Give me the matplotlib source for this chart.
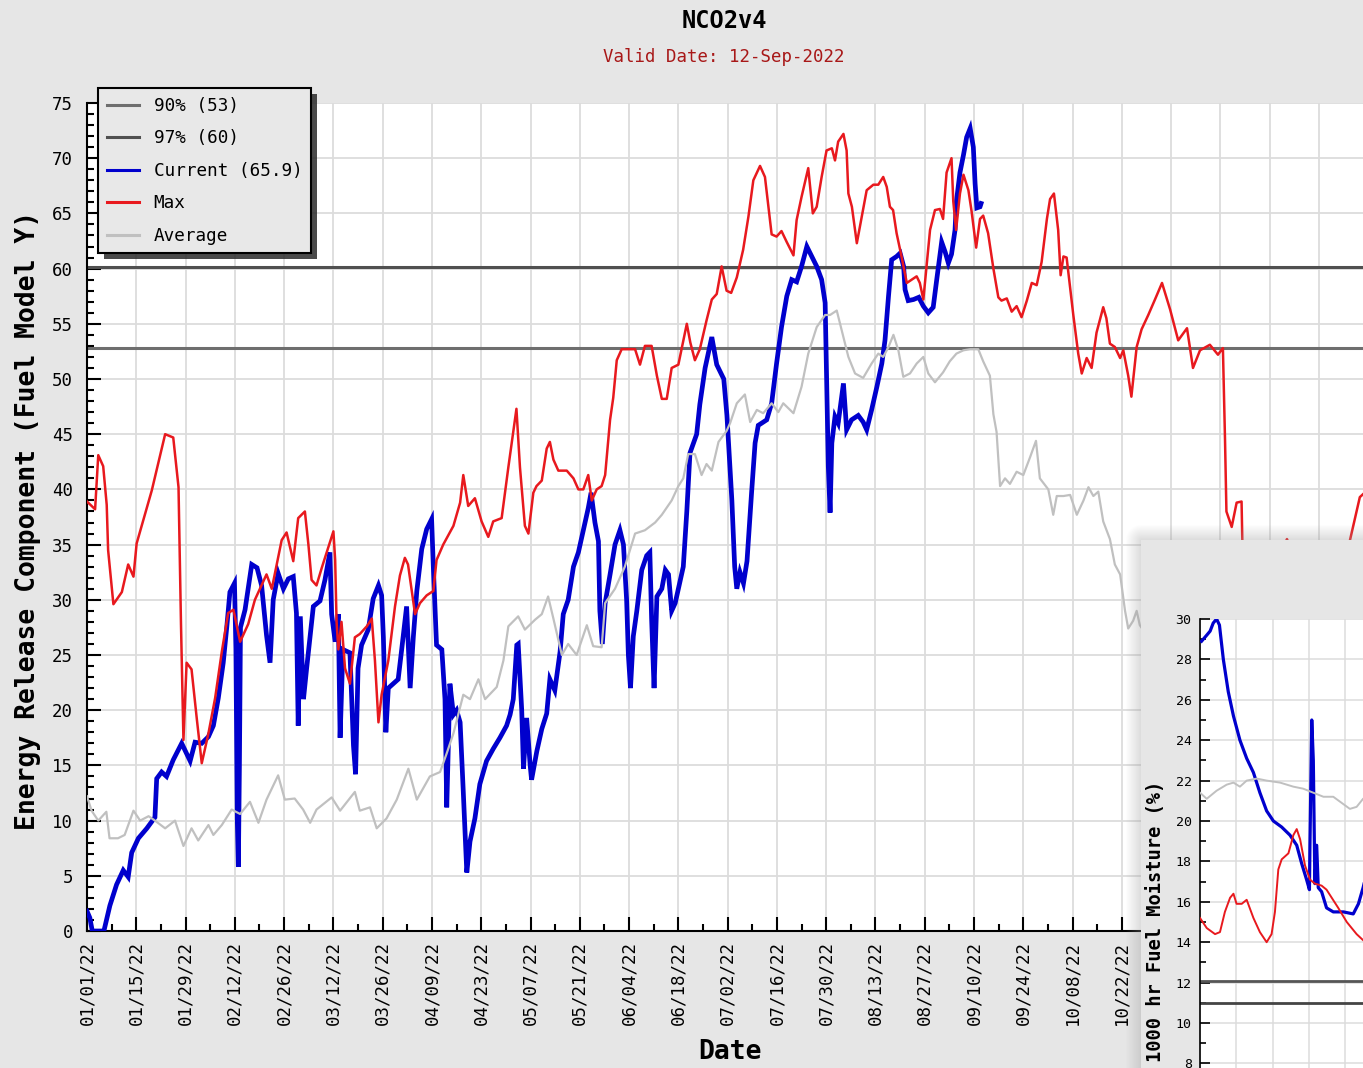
import numpy as np
import matplotlib
matplotlib.use("Agg")
import matplotlib.pyplot as plt
import matplotlib.dates as mdates
from matplotlib.patches import Rectangle
from matplotlib.ticker import FixedLocator, MultipleLocator

plt.rcParams["font.family"] = ["DejaVu Sans Mono", "DejaVu Sans"]

# %% data (day offsets from 2022-01-01)
title = "NCO2v4"
valid_date = "Valid Date: 12-Sep-2022"
pct90, pct97 = 52.8, 60.1
current_label = "Current (65.9)"

max_days = [0, 2.3, 3.2, 4.6, 5.6, 6.0, 7.5, 9.9, 11.7, 13.2, 14.1, 18.4, 22.2, 24.5, 26.0, 26.7, 27.4,
            28.3, 29.7, 31.2, 32.6, 34.5, 36.4, 38.3, 40.1, 41.6, 43.5, 45.8, 47.7, 51.0, 52.5, 55.3,
            56.7, 58.6, 60.0, 61.9, 62.9, 63.8, 65.2, 66.7, 68.1, 70.0, 70.5, 70.9, 71.4, 72.3, 73.3,
            74.7, 76.1, 77.5, 79.5, 80.9, 81.8, 82.8, 83.7, 85.6, 87.5, 88.9, 90.3, 91.2, 93.2, 94.6,
            96.5, 98.4, 99.3, 101.2, 104.1, 106.0, 106.9, 108.3, 110.2, 112.1, 114.0, 115.4, 117.8,
            119.7, 122.0, 123.0, 124.4, 125.4, 126.8, 127.7, 129.2, 130.6, 131.5, 132.5, 133.9, 136.3,
            138.2, 139.6, 141.0, 142.4, 143.4, 144.8, 146.2, 147.2, 148.6, 149.5, 150.5, 151.9, 153.8,
            155.7, 157.1, 158.5, 160.4, 161.9, 163.3, 164.7, 166.1, 168.0, 170.4, 171.4, 172.7, 174.1,
            176.0, 177.5, 178.9, 180.3, 181.7, 183.0, 184.6, 186.4, 187.9, 189.3, 191.2, 192.6, 193.6,
            194.5, 195.9, 197.3, 198.8, 200.7, 201.6, 203.0, 204.9, 206.2, 207.3, 208.7, 210.1, 211.6,
            212.5, 213.4, 214.9, 215.8, 216.3, 217.3, 218.7, 220.1, 221.5, 223.4, 224.8, 226.2, 227.2,
            228.1, 229.0, 230.0, 231.4, 232.9, 234.3, 235.7, 236.6, 237.6, 238.5, 239.5, 240.9, 242.3,
            243.2, 244.2, 245.6, 246.1, 246.9, 248.0, 249.0, 250.4, 251.3, 252.6, 253.7, 254.6, 256.0,
            257.5, 258.9, 259.8, 261.3, 262.7, 264.1, 265.5, 267.0, 268.4, 269.8, 271.2, 272.7, 273.6,
            274.7, 275.9, 276.6, 277.4, 278.3, 280.2, 281.6, 282.6, 284.0, 285.4, 286.8, 288.7, 289.6,
            290.6, 292.0, 293.5, 294.4, 295.8, 296.7, 298.2, 299.6, 301.5, 303.4, 305.4, 307.7, 310.0,
            312.5, 314.2, 316.2, 319.0, 321.3, 322.7, 323.3, 323.7, 325.2, 326.6, 328.0, 328.3, 331.0,
            336.0, 340.9, 344.0, 350.0, 355.0, 358.8, 361.6, 364.0]
max_vals = [38.9, 38.2, 43.1, 42.1, 38.6, 34.5, 29.6, 30.7, 33.2, 32.1, 35.1, 39.9, 45.0, 44.7, 40.2, 27.8,
            17.3, 24.3, 23.7, 19.2, 15.2, 17.9, 21.1, 25.3, 28.8, 29.1, 26.2, 27.8, 30.0, 32.3, 31.0,
            35.4, 36.1, 33.5, 37.4, 38.0, 35.0, 31.8, 31.3, 32.9, 34.3, 36.2, 33.6, 28.0, 25.5, 28.0,
            23.8, 22.4, 26.6, 26.9, 27.6, 28.3, 24.5, 18.9, 21.4, 24.5, 29.4, 32.2, 33.8, 33.2, 28.7,
            29.7, 30.4, 30.8, 33.6, 35.0, 36.7, 38.8, 41.3, 38.5, 39.2, 37.1, 35.7, 37.1, 37.4, 42.0,
            47.3, 42.0, 36.7, 36.0, 39.7, 40.3, 40.8, 43.7, 44.3, 42.7, 41.7, 41.7, 41.0, 40.0, 40.0,
            41.3, 39.0, 40.0, 40.3, 41.3, 46.3, 48.3, 51.7, 52.7, 52.7, 52.7, 51.3, 53.0, 53.0, 50.3,
            48.2, 48.2, 51.0, 51.3, 55.0, 53.3, 51.7, 52.7, 55.3, 57.2, 57.7, 60.2, 58.0, 57.8, 59.2,
            61.7, 64.7, 68.0, 69.3, 68.3, 65.6, 63.1, 62.9, 63.4, 62.4, 61.2, 64.4, 66.5, 69.1, 65.0,
            65.6, 68.3, 70.7, 70.9, 69.8, 71.5, 72.2, 70.7, 66.8, 65.6, 62.3, 64.7, 67.1, 67.6, 67.6,
            68.3, 67.4, 65.6, 65.3, 63.2, 61.1, 58.7, 59.0, 59.3, 58.7, 57.2, 60.2, 63.5, 65.3, 65.4,
            64.5, 68.7, 70.0, 66.1, 63.5, 66.8, 68.5, 67.1, 65.2, 61.9, 64.5, 64.8, 63.2, 60.0, 57.4,
            57.1, 57.3, 56.1, 56.6, 55.6, 57.1, 58.7, 58.5, 60.6, 64.5, 66.3, 66.8, 63.5, 59.4, 61.1,
            61.0, 55.8, 52.3, 50.5, 51.9, 51.0, 54.2, 56.5, 55.5, 53.2, 52.9, 51.9, 52.6, 50.3, 48.4,
            52.9, 54.5, 55.8, 57.2, 58.7, 56.3, 53.5, 54.6, 51.0, 52.6, 53.1, 52.2, 52.8, 44.5, 38.0,
            36.6, 38.8, 38.9, 34.0, 31.0, 32.0, 35.5, 33.0, 31.0, 32.0, 35.4, 39.3, 40.0]

cur_days = [0, 0.8, 1.5, 4.8, 6.5, 8.4, 10.3, 11.7, 12.7, 14.6, 17.0, 19.3, 19.8, 21.2, 22.6, 24.5, 26.9,
            29.3, 30.7, 32.6, 34.5, 35.9, 37.3, 38.7, 39.7, 40.6, 41.9, 42.3, 42.7, 43.0, 43.3, 43.6,
            44.9, 46.8, 48.3, 49.6, 51.0, 52.0, 52.9, 54.3, 55.8, 57.2, 58.6, 59.5, 60.0, 60.6, 61.5,
            62.4, 64.3, 66.2, 67.6, 69.0, 69.5, 70.5, 71.4, 71.9, 72.7, 74.7, 75.7, 76.3, 77.0, 78.0,
            79.9, 81.3, 82.8, 83.7, 84.2, 84.9, 85.6, 87.0, 88.4, 89.4, 90.8, 91.8, 92.7, 93.7, 95.1,
            96.5, 97.9, 98.4, 99.3, 100.8, 101.7, 102.2, 103.1, 104.1, 105.0, 106.0, 106.9, 107.9,
            108.8, 110.2, 111.6, 113.5, 115.4, 117.3, 119.2, 120.2, 121.1, 122.1, 122.5, 123.5, 124.0,
            124.9, 125.9, 126.3, 127.8, 129.2, 130.6, 131.5, 132.9, 134.4, 135.3, 136.7, 138.2, 139.6,
            141.0, 142.4, 143.2, 144.3, 145.3, 145.7, 146.4, 147.2, 148.6, 150.0, 151.4, 152.4, 153.3,
            153.8, 154.4, 155.2, 156.2, 157.6, 159.0, 159.9, 160.4, 161.1, 161.9, 163.3, 164.3, 165.2,
            166.1, 167.1, 168.0, 169.4, 170.4, 171.3, 173.2, 174.1, 175.6, 177.5, 178.9, 180.9, 181.8,
            183.2, 184.0, 184.6, 185.5, 186.5, 187.5, 188.8, 189.8, 190.7, 193.1, 194.5, 195.9, 197.3,
            198.8, 200.2, 201.6, 203.0, 204.5, 205.9, 207.3, 208.7, 209.7, 210.1, 210.6, 211.1, 211.6,
            212.5, 213.4, 214.9, 215.8, 217.2, 219.1, 220.5, 221.5, 222.9, 224.4, 225.8, 226.7, 227.7,
            228.6, 230.0, 231.0, 232.0, 232.4, 233.3, 234.8, 236.3, 237.6, 239.0, 240.4, 241.4, 242.8,
            243.8, 244.7, 245.6, 246.6, 247.0, 248.0, 249.0, 249.9, 250.9, 251.8, 252.3, 252.8, 253.7,
            254.0]
cur_vals = [1.8, 1.2, 0.0, 0.0, 2.3, 4.2, 5.5, 4.9, 7.1, 8.4, 9.3, 10.3, 13.8, 14.4, 14.0, 15.5, 17.0,
            15.4, 17.1, 17.0, 17.6, 18.6, 21.1, 24.3, 27.5, 30.7, 31.5, 25.6, 10.0, 5.8, 15.0, 27.5,
            29.1, 33.2, 32.9, 31.3, 26.8, 24.3, 30.0, 32.4, 31.0, 31.9, 32.1, 28.8, 18.6, 28.5, 21.0,
            23.8, 29.4, 29.9, 31.8, 34.3, 28.7, 26.2, 28.7, 17.5, 25.5, 25.2, 16.8, 14.2, 23.8, 25.9,
            27.3, 30.1, 31.3, 30.4, 26.6, 18.0, 22.0, 22.4, 22.8, 25.5, 29.4, 22.0, 26.6, 30.8, 34.6,
            36.4, 37.3, 32.9, 25.9, 25.5, 21.0, 11.2, 22.4, 19.6, 20.0, 18.9, 12.6, 5.3,
            8.1, 10.2, 13.3, 15.4, 16.5, 17.5, 18.6, 19.6, 21.0, 25.9, 26.0, 20.0, 14.7,
            19.3, 15.0, 13.7, 16.3, 18.3, 19.7, 22.8, 21.8, 25.3, 28.7, 30.0, 33.0, 34.3,
            36.3, 38.3, 39.7, 37.0, 35.3, 29.0, 26.0, 29.7, 32.3, 35.0, 36.3, 35.0, 30.0,
            25.0, 22.0, 26.7, 29.0, 32.7, 34.0, 34.3, 28.3, 22.0, 30.3, 31.0, 32.7, 32.3,
            29.0, 29.7, 31.0, 33.0, 38.0, 43.3, 45.0, 47.7, 51.0, 53.8, 51.3, 50.0, 46.7,
            39.0, 33.0, 31.0, 32.5, 31.5, 33.5, 39.7, 44.2, 45.8, 46.3, 47.8, 51.4, 54.7,
            57.5, 59.0, 58.8, 60.2, 62.0, 61.1, 60.2, 59.0, 56.9, 50.2, 42.1, 37.9, 44.2,
            46.6, 46.0, 49.6, 45.4, 46.3, 46.7, 46.1, 45.4, 47.2, 49.3, 51.4, 53.5, 57.5,
            60.8, 61.1, 61.4, 60.2, 58.1, 57.1, 57.2, 57.4, 56.6, 56.0, 56.5, 59.0, 62.4,
            61.5, 60.5, 61.3, 63.5, 66.1, 68.7, 70.3, 71.9, 72.7, 71.0, 67.7, 65.5, 65.6,
            65.9]

avg_days = [0, 1.3, 3.2, 5.5, 6.4, 8.8, 10.7, 13.2, 15.1, 17.5, 19.3, 22.2, 25.0, 27.4, 29.7, 31.6, 34.5,
            35.9, 38.3, 41.1, 43.5, 46.3, 48.7, 51.0, 54.3, 56.2, 59.0, 61.4, 63.4, 65.2, 69.5, 71.9,
            76.1, 77.5, 80.4, 82.3, 85.1, 88.0, 91.3, 93.7, 97.4, 100.3, 102.2, 104.1, 106.9, 108.8,
            111.2, 113.1, 116.4, 118.3, 119.7, 122.5, 124.4, 127.3, 129.2, 131.0, 132.5, 134.9, 136.7,
            139.1, 142.0, 143.8, 146.2, 147.2, 150.0, 152.8, 155.7, 158.5, 161.4, 163.3, 166.1, 168.0,
            169.4, 170.8, 172.7, 174.6, 176.0, 177.5, 179.4, 181.7, 182.7, 184.6, 186.9, 188.4, 190.3,
            192.1, 194.5, 196.4, 197.8, 200.7, 203.0, 204.9, 207.3, 209.7, 211.1, 213.0, 214.9, 216.3,
            218.2, 220.5, 222.9, 224.8, 226.2, 227.7, 229.1, 230.5, 231.9, 233.8, 235.7, 237.6, 239.0,
            240.9, 243.2, 245.1, 247.0, 249.0, 250.9, 253.2, 254.6, 256.5, 257.5, 258.4, 259.4, 260.8,
            262.2, 264.1, 266.0, 267.9, 269.6, 270.7, 273.1, 274.5, 275.5, 277.4, 279.3, 281.2, 283.1,
            284.5, 285.9, 287.3, 288.7, 290.6, 292.0, 293.5, 294.9, 295.8, 297.2, 298.2, 299.1, 305.0,
            320.0, 340.0, 364.0]
avg_vals = [12.2, 10.9, 10.0, 10.8, 8.4, 8.4, 8.7, 10.9, 10.0, 10.4, 10.0, 9.3, 10.0, 7.7, 9.3, 8.2, 9.6,
            8.7, 9.6, 11.0, 10.6, 11.7, 9.8, 11.9, 14.1, 11.9, 12.0, 11.0, 9.8, 11.0, 12.1, 10.9,
            12.6, 10.9, 11.2, 9.3, 10.2, 11.9, 14.7, 11.9, 14.0, 14.4, 16.1, 17.9, 21.4, 21.0,
            22.8, 21.0, 22.1, 24.5, 27.6, 28.5, 27.3, 28.2, 28.7, 30.3, 28.3, 25.0, 26.0,
            25.0, 27.7, 25.8, 25.7, 29.7, 31.0, 33.0, 36.0, 36.3, 37.0, 37.7, 39.0, 40.3,
            41.0, 43.2, 43.2, 41.3, 42.3, 41.7, 44.3, 45.3, 46.0, 47.8, 48.6, 46.1, 47.2,
            46.9, 47.8, 47.0, 47.8, 46.9, 49.3, 52.3, 54.7, 55.8, 55.8, 56.2, 53.8, 52.0,
            50.5, 50.1, 51.4, 52.3, 52.0, 52.9, 54.0, 52.6, 50.2, 50.5, 51.4, 52.0, 50.5,
            49.7, 50.6, 51.6, 52.3, 52.6, 52.7, 52.7, 51.6, 50.3, 46.8, 45.2, 40.3, 41.0,
            40.5, 41.6, 41.3, 42.9, 44.4, 41.0, 40.0, 37.7, 39.4, 39.4, 39.5, 37.7, 39.0,
            40.2, 39.4, 39.8, 37.1, 35.5, 33.2, 32.3, 29.0, 27.4, 28.1, 29.0, 27.7, 25.0,
            22.0, 18.0, 15.0]

# inset chart (1000 hr fuel moisture), day offsets
fm_cur_days = [0.6, 2.6, 3.9, 5.1, 6.4, 7.5, 9.0, 10.9, 12.9, 15.4, 18.0, 20.6, 23.1, 25.7, 28.3, 31.5,
               34.7, 37.3, 39.2, 41.1, 42.2, 42.4, 43.1, 43.7, 44.3, 45.0, 45.6, 46.9, 48.8, 51.4, 55.3,
               59.1, 61.1, 62.9, 65.0]
fm_cur_vals = [28.9, 29.2, 29.4, 29.8, 30.0, 29.7, 28.0, 26.4, 25.2, 24.0, 23.1, 22.4, 21.4, 20.5, 20.0,
               19.7, 19.3, 18.8, 17.9, 17.1, 16.6, 18.8, 25.0, 23.0, 16.9, 18.8, 16.7, 16.5, 15.7, 15.5,
               15.5, 15.4, 15.9, 16.7, 17.8]
fm_max_days = [0, 2.6, 5.8, 7.7, 9.6, 11.6, 12.9, 14.1, 16.1, 18.0, 20.6, 23.1, 25.7, 27.6, 28.9, 30.2,
               31.5, 34.1, 36.0, 37.3, 38.6, 40.5, 42.4, 44.3, 46.9, 48.8, 50.8, 53.3, 56.6, 60.4, 62.9,
               65.0]
fm_max_vals = [15.2, 14.7, 14.4, 14.5, 15.5, 16.2, 16.4, 15.9, 15.9, 16.1, 15.2, 14.5, 14.0, 14.4, 15.5,
               17.6, 18.1, 18.4, 19.3, 19.6, 19.1, 17.8, 17.1, 16.9, 16.8, 16.6, 16.2, 15.7, 15.0, 14.4,
               14.1, 13.9]
fm_avg_days = [0, 2.6, 6.4, 10.3, 12.9, 15.4, 18.0, 21.9, 25.7, 30.9, 36.0, 39.8, 43.7, 47.6, 51.4, 54.6,
               57.8, 60.4, 62.9, 65.0]
fm_avg_vals = [21.4, 21.1, 21.5, 21.8, 21.9, 21.7, 22.0, 22.1, 22.0, 21.9, 21.7, 21.6, 21.4, 21.2, 21.2,
               20.9, 20.6, 20.7, 21.1, 21.3]
fm_pct90, fm_pct97 = 12.1, 11.0
fm_yticks = [8, 10, 12, 14, 16, 18, 20, 22, 24, 26, 28, 30]

# %% layout helpers (pixel positions of the reference)
W, H = 1363, 1068
BG = "#e6e6e6"


def fx(px):
    return px / W


def fy(py):
    return 1 - py / H


fig = plt.figure(figsize=(W / 100, H / 100), dpi=100, facecolor=BG)

start = mdates.date2num(np.datetime64("2022-01-01"))
ax = fig.add_axes([fx(87), fy(931), 365 * 3.52 / W, (931 - 103) / H])
ax.set_facecolor("white")

l90 = ax.axhline(pct90, color="#6e6e6e", lw=2.2, zorder=2)
l97 = ax.axhline(pct97, color="#505050", lw=2.2, zorder=2)
lcur, = ax.plot(start + np.array(cur_days), cur_vals, color="#0000cd", lw=3.4, zorder=3,
                solid_joinstyle="miter")
lavg, = ax.plot(start + np.array(avg_days), avg_vals, color="#c0c0c0", lw=1.6, zorder=4)
lmax, = ax.plot(start + np.array(max_days), max_vals, color="#e8191e", lw=1.8, zorder=5)

ax.set_xlim(start, start + 365)
ax.set_ylim(0, 75)
ax.xaxis.set_major_locator(FixedLocator(start + np.arange(0, 365, 14)))
ax.xaxis.set_minor_locator(FixedLocator(start + np.arange(7, 365, 14)))
ax.xaxis.set_major_formatter(mdates.DateFormatter("%m/%d/%y"))
ax.yaxis.set_major_locator(MultipleLocator(5))
ax.yaxis.set_minor_locator(MultipleLocator(1))
ax.tick_params(which="both", direction="in", width=1.5, colors="black", labelsize=12.5)
ax.tick_params(which="major", length=10)
ax.tick_params(which="minor", length=5)
ax.tick_params(axis="y", pad=10)
ax.tick_params(axis="x", pad=7, labelrotation=90)
ax.grid(True, which="major", color="#dcdcdc", lw=1.3)
ax.set_axisbelow(True)
for s in ["top", "right"]:
    ax.spines[s].set_visible(False)
for s in ["left", "bottom"]:
    ax.spines[s].set_linewidth(1.5)

# labels past 10/22 sit under the second window in the screenshot
fig.canvas.draw()
for lab in ax.get_xticklabels():
    if lab.get_position()[0] > start + 300:
        lab.set_visible(False)

fig.text(fx(724), fy(21), title, ha="center", va="center", fontsize=17, weight="bold")
fig.text(fx(724), fy(57), valid_date, ha="center", va="center", fontsize=12.5, color="#a81818")
fig.text(fx(28), fy(520), "Energy Release Component (Fuel Model Y)", rotation=90,
         ha="center", va="center", fontsize=19, weight="bold")
fig.text(fx(730), fy(1052), "Date", ha="center", va="center", fontsize=19, weight="bold")

leg = fig.legend([l90, l97, lcur, lmax, lavg],
                 ["90% (53)", "97% (60)", current_label, "Max", "Average"],
                 loc="upper left", bbox_to_anchor=(fx(98), fy(88)), bbox_transform=fig.transFigure,
                 borderaxespad=0, fontsize=12.7, handlelength=1.8, handletextpad=0.85,
                 labelspacing=0.82, borderpad=0.5, fancybox=False, framealpha=1,
                 facecolor="#e8e8e8", edgecolor="black",
                 shadow={"ox": 4, "oy": -4, "facecolor": "#2a2a2a", "edgecolor": "none", "alpha": 0.85})
leg.get_frame().set_linewidth(1.5)
for h in leg.legend_handles:
    h.set_linewidth(2.2)

# %% overlapping second chart window (bottom right)
x0, x1, y0, y1 = 1121, 1363, 520, 1068
xs = np.arange(x0, x1)
ys = np.arange(y0, y1)
dx = np.clip(1141 - xs, 0, None)[None, :]
dy = np.clip(540 - ys, 0, None)[:, None]
d = np.hypot(dx, dy)
rgba = np.zeros((len(ys), len(xs), 4))
rgba[..., :3] = 0.6
rgba[..., 3] = np.clip(1 - d / 16, 0, 1) * 0.35
sh_ax = fig.add_axes([fx(x0), 0, (x1 - x0) / W, fy(y0)], zorder=9)
sh_ax.imshow(rgba, aspect="auto", interpolation="bilinear")
sh_ax.set_axis_off()

fig.patches.append(Rectangle((fx(1141), 0), 1, fy(540), transform=fig.transFigure,
                             facecolor=BG, edgecolor="none", zorder=10))

px_day = 2.593
ax2 = fig.add_axes([fx(1200), fy(619 + 30 * 20.2), 400 / W, 30 * 20.2 / H], zorder=11)
ax2.set_facecolor("white")
ax2.axhline(fm_pct90, color="#555555", lw=2.0, zorder=2)
ax2.axhline(fm_pct97, color="#444444", lw=2.0, zorder=2)
ax2.plot(fm_cur_days, fm_cur_vals, color="#0000cd", lw=2.3, zorder=3)
ax2.plot(fm_avg_days, fm_avg_vals, color="#c0c0c0", lw=1.4, zorder=4)
ax2.plot(fm_max_days, fm_max_vals, color="#e8191e", lw=1.4, zorder=5)
ax2.set_xlim(0, 400 / px_day)
ax2.set_ylim(0, 30)
ax2.xaxis.set_major_locator(MultipleLocator(14))
ax2.set_xticklabels([])
ax2.set_yticks(fm_yticks)
ax2.yaxis.set_minor_locator(FixedLocator(np.arange(7, 30, 2)))
ax2.tick_params(which="both", direction="in", width=1.2, labelsize=9.5)
ax2.tick_params(which="major", length=7)
ax2.tick_params(which="minor", length=4)
ax2.tick_params(axis="y", pad=6)
ax2.grid(True, which="major", color="#dcdcdc", lw=1.1)
ax2.set_axisbelow(True)
for s in ["top", "right"]:
    ax2.spines[s].set_visible(False)
ax2.spines["left"].set_linewidth(1.2)

fig.text(fx(1156), fy(921), "1000 hr Fuel Moisture (%)", rotation=90, ha="center", va="center",
         fontsize=13.5, weight="bold", zorder=12)

plt.savefig("out.png", dpi=100, facecolor=BG)
